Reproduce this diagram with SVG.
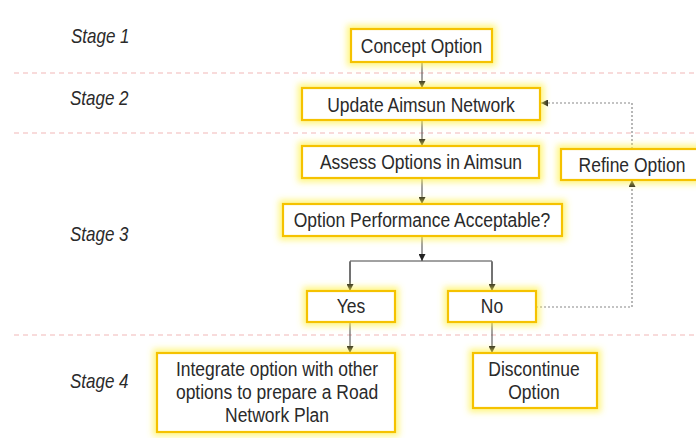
<svg xmlns="http://www.w3.org/2000/svg" width="696" height="438" viewBox="0 0 696 438">
<defs>
<style>
.sep{stroke:#F2B8B8;stroke-width:1.2;stroke-dasharray:5 4;fill:none}
.box{fill:#fff;stroke:#F5C200;stroke-width:2.2;filter:url(#glow)}
.t{font-family:"Liberation Sans",Arial,sans-serif;font-size:17.5px;fill:#2a2a2a;text-anchor:middle}
.st{font-family:"Liberation Sans",Arial,sans-serif;font-size:17px;font-style:italic;fill:#2a2a2a}
.ln{stroke:#444;stroke-width:1;fill:none}
.dot{stroke:#888;stroke-width:1.2;stroke-dasharray:2 2;fill:none}
</style>
<filter id="glow" x="-30%" y="-60%" width="160%" height="220%">
<feMorphology in="SourceAlpha" operator="dilate" radius="3" result="d"/>
<feGaussianBlur in="d" stdDeviation="3" result="b"/>
<feFlood flood-color="#FFF24A" flood-opacity="0.7"/>
<feComposite in2="b" operator="in" result="g"/>
<feMerge><feMergeNode in="g"/><feMergeNode in="SourceGraphic"/></feMerge>
</filter>
<marker id="ah" viewBox="0 0 10 10" refX="10" refY="5" markerWidth="7" markerHeight="7" orient="auto" markerUnits="userSpaceOnUse">
<path d="M0,0 L10,5 L0,10 z" fill="#222"/>
</marker>
</defs>
<rect width="696" height="438" fill="#fff"/>
<g id="separators">
<line class="sep" x1="14" y1="73" x2="696" y2="73"/>
<line class="sep" x1="14" y1="133" x2="696" y2="133"/>
<line class="sep" x1="14" y1="335" x2="696" y2="335"/>
</g>
<g id="stages">
<text class="st" transform="translate(71,43) scale(1,1.14)">Stage 1</text>
<text class="st" transform="translate(70,105) scale(1,1.14)">Stage 2</text>
<text class="st" transform="translate(70,241) scale(1,1.14)">Stage 3</text>
<text class="st" transform="translate(70,388) scale(1,1.14)">Stage 4</text>
</g>
<g id="connectors">
<line class="ln" x1="422" y1="62" x2="422" y2="88" marker-end="url(#ah)"/>
<line class="ln" x1="422" y1="120" x2="422" y2="146" marker-end="url(#ah)"/>
<line class="ln" x1="422" y1="178" x2="422" y2="204" marker-end="url(#ah)"/>
<line class="ln" x1="422" y1="236" x2="422" y2="261" marker-end="url(#ah)"/>
<polyline class="ln" points="350,291 350,261 492,261 492,291" />
<line class="ln" x1="350" y1="262" x2="350" y2="291" marker-end="url(#ah)"/>
<line class="ln" x1="492" y1="262" x2="492" y2="291" marker-end="url(#ah)"/>
<line class="ln" x1="350" y1="322" x2="350" y2="353" marker-end="url(#ah)"/>
<line class="ln" x1="492" y1="322" x2="492" y2="353" marker-end="url(#ah)"/>
<polyline class="dot" points="632,149 632,103 541,103" marker-end="url(#ah)"/>
<polyline class="dot" points="536,307 632,307 632,180" marker-end="url(#ah)"/>
</g>
<g id="concept">
<rect class="box" x="351" y="29" width="141" height="33"/>
<text class="t" transform="translate(421.5,53) scale(1,1.14)">Concept Option</text>
</g>
<g id="update">
<rect class="box" x="302" y="88" width="238" height="32"/>
<text class="t" transform="translate(421,112) scale(1,1.14)">Update Aimsun Network</text>
</g>
<g id="assess">
<rect class="box" x="302" y="146" width="237" height="32"/>
<text class="t" transform="translate(421,169) scale(1,1.14)">Assess Options in Aimsun</text>
</g>
<g id="performance">
<rect class="box" x="283" y="204" width="279" height="32"/>
<text class="t" transform="translate(422,227) scale(1,1.14)">Option Performance Acceptable?</text>
</g>
<g id="refine">
<rect class="box" x="561" y="149" width="140" height="31"/>
<text class="t" transform="translate(632,172) scale(1,1.14)">Refine Option</text>
</g>
<g id="yes">
<rect class="box" x="307" y="291" width="88" height="31"/>
<text class="t" transform="translate(351,313) scale(1,1.14)">Yes</text>
</g>
<g id="no">
<rect class="box" x="448" y="291" width="88" height="31"/>
<text class="t" transform="translate(492,313) scale(1,1.14)">No</text>
</g>
<g id="integrate">
<rect class="box" x="157" y="353" width="238" height="79"/>
<text class="t" transform="translate(277,376) scale(1,1.14)"><tspan x="0" y="0">Integrate option with other</tspan><tspan x="0" y="20">options to prepare a Road</tspan><tspan x="0" y="40.5">Network Plan</tspan></text>
</g>
<g id="discontinue">
<rect class="box" x="473" y="353" width="124" height="55"/>
<text class="t" transform="translate(534,376) scale(1,1.14)"><tspan x="0" y="0">Discontinue</tspan><tspan x="0" y="20">Option</tspan></text>
</g>
</svg>
